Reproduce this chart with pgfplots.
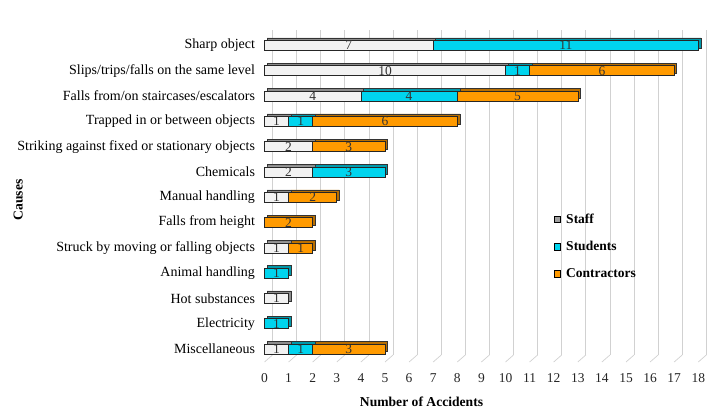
\documentclass[border=0pt]{standalone}
\usepackage{fontspec}
\setmainfont{Liberation Serif}
\usepackage{pgfplots}
\pgfplotsset{compat=1.18}
\usepackage{pgfplotstable}
\definecolor{staffF}{HTML}{F2F2F2}
\definecolor{staffT}{HTML}{8C8C8C}
\definecolor{stuF}{HTML}{00D4EE}
\definecolor{stuT}{HTML}{0098AA}
\definecolor{conF}{HTML}{FF9A00}
\definecolor{conT}{HTML}{B86E00}
\definecolor{legStaff}{HTML}{A0A0A0}

\pgfplotstableread{
y staff students contractors
0 7 11 0
1 10 1 6
2 4 4 5
3 1 1 6
4 2 0 3
5 2 3 0
6 1 0 2
7 0 0 2
8 1 0 1
9 0 1 0
10 1 0 0
11 0 1 0
12 1 1 3
}\bardata

\pgfplotstableread{
x y lab
3.5 0 7
12.5 0 11
5 1 10
10.5 1 1
14 1 6
2 2 4
6 2 4
10.5 2 5
0.5 3 1
1.5 3 1
5 3 6
1 4 2
3.5 4 3
1 5 2
3.5 5 3
0.5 6 1
2 6 2
1 7 2
0.5 8 1
1.5 8 1
0.5 9 1
0.5 10 1
0.5 11 1
0.5 12 1
1.5 12 1
3.5 12 3
}\labdata

\begin{document}
\begin{tikzpicture}
\useasboundingbox (0pt,0pt) rectangle (720pt,415pt);
\pgfplotsset{
  base/.style={scale only axis, width=433.8pt, height=333.9pt,
    xmin=0, xmax=18, ymin=-0.6, ymax=12.6, y dir=reverse,
    anchor=south west, clip=false},
  bars/.style={xbar stacked, bar width=10pt, bar shift=0pt},
}
% back wall grid and floor
\begin{axis}[scale only axis, width=433.8pt, height=325pt, at={(272.5pt,60pt)},
  anchor=south west, xmin=0, xmax=18, ymin=0, ymax=1, clip=false,
  xtick={0,...,18}, xticklabels={}, ytick=\empty,
  xmajorgrids, major grid style={black!18, line width=0.7pt},
  axis line style={draw=none}, major tick length=0pt]
\addplot[draw=none] coordinates {(0,0)};
\pgfplotsinvokeforeach{0,...,18}{
  \draw[black!18, line width=0.7pt] (axis cs:#1,0) -- ++(-8pt,-7pt);
}
\end{axis}
% 3D depth of bars
\begin{axis}[base, bars, at={(267pt,53.3pt)}, hide axis]
\addplot[fill=staffT, draw=black!80, line width=0.5pt] table[x=staff, y=y] {\bardata};
\addplot[fill=stuT, draw=black!80, line width=0.5pt] table[x=students, y=y] {\bardata};
\addplot[fill=conT, draw=black!80, line width=0.5pt] table[x=contractors, y=y] {\bardata};
\end{axis}
% front faces
\begin{axis}[base, bars, at={(264.5pt,50.8pt)},
  axis line style={draw=none}, major tick length=0pt,
  xtick={0,...,18}, ytick={0,...,12},
  yticklabels={Sharp object, Slips/trips/falls on the same level,
    Falls from/on staircases/escalators, Trapped in or between objects,
    Striking against fixed or stationary objects, Chemicals,
    Manual handling, Falls from height, Struck by moving or falling objects,
    Animal handling, Hot substances, Electricity, Miscellaneous},
  /pgf/number format/assume math mode=true,
  xticklabel style={font=\fontsize{13.5}{15}\selectfont, text=black!85, yshift=-5.5pt},
  yticklabel style={font=\fontsize{14}{16}\selectfont, xshift=-6pt},
  xlabel={\textbf{Number of Accidents}},
  xlabel style={font=\fontsize{13.6}{15}\selectfont, at={(axis description cs:0.362,-0.113)}, anchor=center},
  ylabel={\textbf{Causes}},
  ylabel style={font=\fontsize{13.6}{15}\selectfont, at={(axis description cs:-0.568,0.492)}, anchor=center, rotate=0},
  legend style={draw=none, fill=none, at={(axis description cs:0.664,0.46)}, anchor=north west,
    font=\fontsize{13.5}{15}\selectfont\bfseries, row sep=12.5pt, inner sep=1pt},
  legend cell align=left,
  legend image code/.code={\draw[#1, draw=black, line width=0.6pt] (0pt,-3.2pt) rectangle (6.4pt,3.2pt); \path (10pt,0pt);},
  legend entries={Staff, Students, Contractors},
]
\addlegendimage{fill=legStaff}
\addlegendimage{fill=stuF}
\addlegendimage{fill=conF}
\addplot[fill=staffF, draw=black!85, line width=0.6pt] table[x=staff, y=y] {\bardata};
\addplot[fill=stuF, draw=black!85, line width=0.6pt] table[x=students, y=y] {\bardata};
\addplot[fill=conF, draw=black!85, line width=0.6pt] table[x=contractors, y=y] {\bardata};
\end{axis}
% value labels
\begin{axis}[base, at={(264.5pt,50.8pt)}, hide axis]
\addplot[only marks, mark=none, nodes near coords, point meta=explicit symbolic,
  every node near coord/.append style={anchor=center, inner sep=0pt, yshift=0pt,
    font=\fontsize{13.5}{15}\selectfont, text=black!80}]
  table[x=x, y=y, meta=lab] {\labdata};
\end{axis}
\end{tikzpicture}
\end{document}
